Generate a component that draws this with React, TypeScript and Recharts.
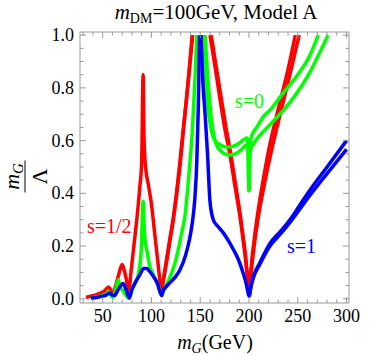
import {Line, LineChart, XAxis, YAxis} from "recharts";

type Pt = [number, number];

// s=1/2 (red), two nearly overlapping curves
const RED_A: Pt[] = [
  [33, 0.005], [38, 0.01], [43, 0.015], [48, 0.022], [52, 0.03], [56, 0.045], [58, 0.035],
  [60.5, 0.018], [63, 0.045], [66, 0.085], [70, 0.13], [72, 0.11], [74.5, 0.07], [76.8, 0.025],
  [79, 0.1], [82, 0.2], [85, 0.3], [88, 0.42], [90, 0.52], [91.5, 0.85], [92.5, 0.6], [94, 0.5],
  [97, 0.43], [100, 0.36], [103, 0.26], [106, 0.16], [110.5, 0.04],
  [113, 0.09], [116, 0.16], [119, 0.23], [122.5, 0.31], [126, 0.41], [129.5, 0.53],
  [132.7, 0.645], [136, 0.76], [139, 0.87], [142.3, 1.0],
];
const RED_A2: Pt[] = [
  [160, 1.0], [165, 0.885], [170, 0.765], [175, 0.65], [180.5, 0.545], [185.5, 0.43],
  [190.8, 0.31], [195.5, 0.18], [200.3, 0.05], [203, 0.15], [206, 0.245], [210, 0.35],
  [215, 0.46], [220, 0.56], [230, 0.72], [240, 0.87], [247.5, 1.0],
];
const RED_B: Pt[] = [
  [110.5, 0.04], [113, 0.085], [116, 0.15], [119, 0.22], [122.5, 0.3], [126, 0.4],
  [129.5, 0.51], [132.5, 0.63], [135.5, 0.74], [138.5, 0.86], [141.8, 1.0],
];
const RED_B2: Pt[] = [
  [161.3, 1.0], [166, 0.89], [171, 0.775], [176, 0.66], [181.3, 0.55], [186, 0.44],
  [191.2, 0.315], [195.8, 0.185], [200.3, 0.05], [203, 0.13], [206, 0.22], [210, 0.32],
  [215, 0.42], [220, 0.51], [230, 0.67], [240, 0.82], [251.5, 1.0],
];

// s=0 (green)
const GREEN_A: Pt[] = [
  [38, 0.003], [45, 0.008], [50, 0.013], [54, 0.02], [56, 0.028], [58, 0.015], [60.5, 0.005],
  [63, 0.03], [66, 0.072], [68, 0.045], [71, 0.03], [73.5, 0.015], [76.5, 0.003], [80, 0.035],
  [84, 0.065], [87, 0.1], [89.5, 0.18], [91.5, 0.37], [93, 0.24], [95.5, 0.18], [98.5, 0.12],
  [101, 0.1], [104, 0.075], [107, 0.05], [110.5, 0.02],
  [114, 0.04], [117, 0.065], [121, 0.1], [124.5, 0.14], [127.6, 0.187], [131, 0.25],
  [134.4, 0.314], [137, 0.41], [139.5, 0.518], [142, 0.64], [144.7, 0.836], [146.5, 1.0],
];
const GREEN_A2: Pt[] = [
  [152.5, 1.0], [154, 0.9], [156, 0.8], [158, 0.72], [160, 0.67], [162, 0.63], [165, 0.6],
  [170, 0.585], [177, 0.575], [185, 0.58], [190, 0.59], [195, 0.605], [198, 0.61], [199.2, 0.57],
  [200, 0.41], [200.8, 0.58], [203, 0.62], [208, 0.65], [214.6, 0.69], [221.5, 0.715],
  [235, 0.78], [252, 0.86], [262, 0.92], [271, 1.0],
];
const GREEN_B2: Pt[] = [
  [155, 1.0], [157, 0.88], [159, 0.78], [161, 0.7], [163, 0.64], [166, 0.59], [170, 0.565],
  [175, 0.55], [180.5, 0.545], [186, 0.55], [192, 0.565], [196, 0.58], [198.7, 0.585],
  [200, 0.41], [201.3, 0.56], [205, 0.59], [210, 0.615], [221.5, 0.66], [242, 0.745],
  [262.5, 0.86], [272, 0.93], [281, 1.0],
];

// s=1 (blue)
const BLUE_A: Pt[] = [
  [38, 0.003], [45, 0.006], [50, 0.01], [54, 0.015], [57, 0.022], [59.5, 0.015], [62, 0.012],
  [66, 0.035], [71, 0.058], [74, 0.035], [77.4, 0.003], [80, 0.035], [84, 0.065], [88, 0.09],
  [92, 0.115], [95, 0.115], [98, 0.105], [102, 0.085], [106, 0.06], [110.5, 0.012],
  [112, 0.03], [115, 0.045], [120, 0.065], [125, 0.085], [129.3, 0.11], [135, 0.165],
  [139, 0.225], [142, 0.29], [144.5, 0.38], [146.5, 0.52], [148, 0.72], [149.3, 1.0],
];
const BLUE_A2: Pt[] = [
  [150.8, 1.0], [152.5, 0.84], [155, 0.7], [157.5, 0.55], [160, 0.37], [163.4, 0.3],
  [168, 0.275], [173.7, 0.25], [179, 0.22], [184, 0.187], [189, 0.15], [194, 0.098],
  [197, 0.06], [200.3, 0.01], [202, 0.05], [205, 0.09], [211, 0.136], [221.5, 0.21],
  [232, 0.255], [242, 0.3], [252, 0.355], [262, 0.41], [280, 0.5], [300, 0.6],
];
const BLUE_B2: Pt[] = [
  [200.3, 0.01], [202, 0.045], [205, 0.085], [211, 0.13], [221.5, 0.2], [232, 0.245],
  [242, 0.29], [252, 0.34], [262, 0.39], [280, 0.475], [300, 0.567],
];

const X_TICKS = [30, 40, 50, 60, 70, 80, 90, 100, 110, 120, 130, 140, 150, 160, 170, 180, 190,
  200, 210, 220, 230, 240, 250, 260, 270, 280, 290, 300];
const Y_TICKS = [0, 0.05, 0.1, 0.15, 0.2, 0.25, 0.3, 0.35, 0.4, 0.45, 0.5, 0.55, 0.6, 0.65,
  0.7, 0.75, 0.8, 0.85, 0.9, 0.95, 1.0];

const RED = "#ff0000";
const GREEN = "#00ff00";
const BLUE = "#0000ff";
const FRAME = "#999999";
const SERIF = '"Liberation Serif", "Times New Roman", serif';

const rows = (pts: Pt[]) => pts.map(([m, v]) => ({m, v}));
const isMajorY = (v: number) => Math.abs(v * 5 - Math.round(v * 5)) < 1e-6;

function BottomTick(props: any) {
  const {x, y, payload} = props;
  const major = payload.value % 50 === 0;
  return (
    <g>
      <line x1={x} x2={x} y1={y} y2={y - (major ? 6 : 3.5)} stroke={FRAME} />
      {major && payload.value >= 50 && (
        <text x={x} y={y + 19} textAnchor="middle" fontSize={18} style={{fontFamily: SERIF}} fill="#000">
          {payload.value}
        </text>
      )}
    </g>
  );
}

function TopTick(props: any) {
  const {x, y, payload} = props;
  const major = payload.value % 50 === 0;
  return <line x1={x} x2={x} y1={y} y2={y + (major ? 6 : 3.5)} stroke={FRAME} />;
}

function LeftTick(props: any) {
  const {x, y, payload} = props;
  const major = isMajorY(payload.value);
  return (
    <g>
      <line x1={x} x2={x + (major ? 6 : 3.5)} y1={y} y2={y} stroke={FRAME} />
      {major && (
        <text x={x - 6} y={y + 6} textAnchor="end" fontSize={18} style={{fontFamily: SERIF}} fill="#000">
          {payload.value.toFixed(1)}
        </text>
      )}
    </g>
  );
}

function RightTick(props: any) {
  const {x, y, payload} = props;
  const major = isMajorY(payload.value);
  return <line x1={x} x2={x - (major ? 6 : 3.5)} y1={y} y2={y} stroke={FRAME} />;
}

export default function App() {
  const line = (key: string, pts: Pt[], color: string) => (
    <Line
      key={key}
      data={rows(pts)}
      dataKey="v"
      type="monotone"
      stroke={color}
      strokeWidth={3.5}
      dot={false}
      activeDot={false}
      isAnimationActive={false}
    />
  );

  const xCommon = {
    type: "number" as const,
    dataKey: "m",
    domain: [26.8, 302.5],
    allowDataOverflow: true,
    ticks: X_TICKS,
    interval: 0,
    height: 1,
    tickSize: 0,
    tickMargin: 0,
    stroke: FRAME,
  };
  const yCommon = {
    type: "number" as const,
    domain: [-0.016, 1.012],
    allowDataOverflow: true,
    ticks: Y_TICKS,
    interval: 0,
    width: 1,
    tickSize: 0,
    tickMargin: 0,
    stroke: FRAME,
  };

  return (
    <div
      style={{
        position: "absolute",
        left: 0,
        top: 0,
        width: 382,
        height: 355,
        background: "#fff",
        fontFamily: SERIF,
      }}>
      <LineChart width={382} height={355} margin={{top: 31, right: 32, bottom: 51, left: 79}}>
        <XAxis {...xCommon} tick={BottomTick} />
        <XAxis {...xCommon} xAxisId="top" orientation="top" tick={TopTick} />
        <YAxis {...yCommon} tick={LeftTick} />
        <YAxis {...yCommon} yAxisId="right" orientation="right" tick={RightTick} />
        {line("ra", RED_A, RED)}
        {line("rb", RED_B, RED)}
        {line("ra2", RED_A2, RED)}
        {line("rb2", RED_B2, RED)}
        {line("ga", GREEN_A, GREEN)}
        {line("ga2", GREEN_A2, GREEN)}
        {line("gb2", GREEN_B2, GREEN)}
        {line("ba", BLUE_A, BLUE)}
        {line("ba2", BLUE_A2, BLUE)}
        {line("bb2", BLUE_B2, BLUE)}
      </LineChart>
      <svg
        width={382}
        height={355}
        style={{position: "absolute", left: 0, top: 0, pointerEvents: "none", fontFamily: SERIF}}>
        <text x={216} y={19} textAnchor="middle" fontSize={21} fill="#000">
          <tspan fontStyle="italic">m</tspan>
          <tspan fontSize={14} dy={4}>DM</tspan>
          <tspan dy={-4}>=100GeV, Model A</tspan>
        </text>
        <text x={215} y={349} textAnchor="middle" fontSize={20} fill="#000">
          <tspan fontStyle="italic">m</tspan>
          <tspan fontStyle="italic" fontSize={14} dy={4}>G</tspan>
          <tspan dy={-4}>(GeV)</tspan>
        </text>
        <g transform="translate(25,176.5) rotate(-90)">
          <text x={0} y={-6} textAnchor="middle" fontSize={22} fill="#000">
            <tspan fontStyle="italic">m</tspan>
            <tspan fontStyle="italic" fontSize={15} dy={4}>G</tspan>
          </text>
          <line x1={-16} x2={16} y1={0} y2={0} stroke="#000" strokeWidth={1} />
          <text x={0} y={22} textAnchor="middle" fontSize={22} fill="#000">Λ</text>
        </g>
        <text x={87} y={233} fontSize={20} fill={RED}>s=1/2</text>
        <text x={235} y={108} fontSize={20} fill={GREEN}>s=0</text>
        <text x={287} y={253} fontSize={20} fill={BLUE}>s=1</text>
      </svg>
    </div>
  );
}
